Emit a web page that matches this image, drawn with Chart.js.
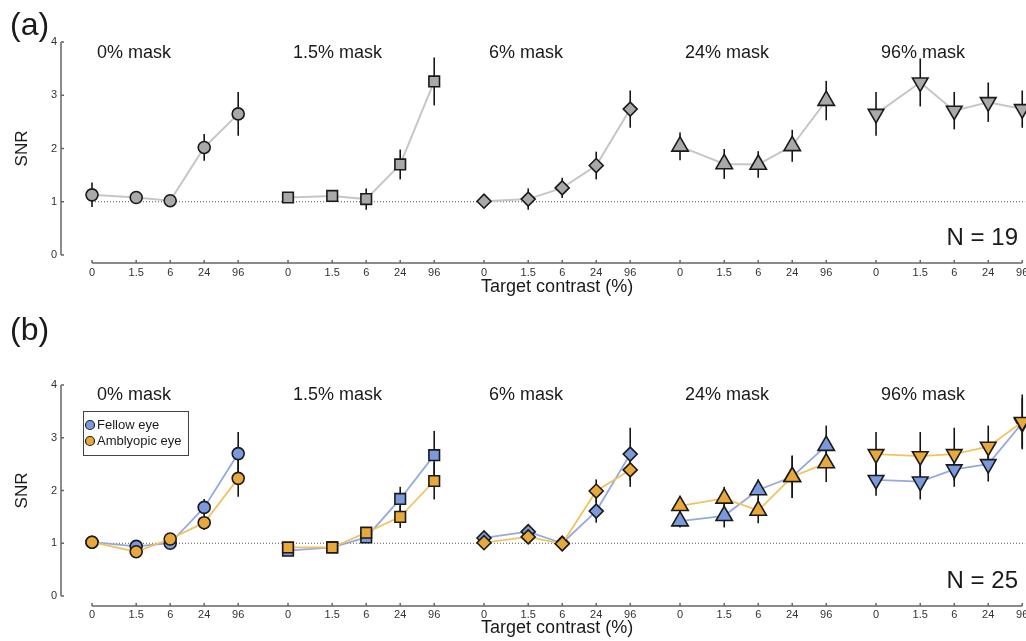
<!DOCTYPE html>
<html><head><meta charset="utf-8">
<script src="https://cdn.jsdelivr.net/npm/chart.js@4.4.1/dist/chart.umd.min.js"></script>
<style>
html,body{margin:0;padding:0;background:#fff;}
#wrap{position:relative;width:1026px;height:641px;overflow:hidden;background:#fff;}
canvas{position:absolute;left:0;}
</style></head><body>
<div id="wrap">
<canvas id="ca" width="1026" height="300" style="top:0px"></canvas>
<canvas id="cb" width="1026" height="341" style="top:300px"></canvas>
</div>
<script>
// ---------------- data ----------------
const contrasts = [0, 1.5, 6, 24, 96];
const tickLabels = ['0', '1.5', '6', '24', '96'];
const masks = ['0% mask', '1.5% mask', '6% mask', '24% mask', '96% mask'];
const yTicks = [0, 1, 2, 3, 4];

// Panel (a): rows = mask contrast, columns = target contrast
const snrA = [
  [1.13, 1.08, 1.02, 2.02, 2.65],
  [1.08, 1.11, 1.05, 1.70, 3.26],
  [1.01, 1.05, 1.26, 1.68, 2.74],
  [2.04, 1.71, 1.70, 2.05, 2.90],
  [2.65, 3.24, 2.71, 2.87, 2.74]
];
const errA = [
  [0.23, 0.07, 0.06, 0.25, 0.41],
  [0.07, 0.08, 0.20, 0.28, 0.45],
  [0.05, 0.20, 0.19, 0.26, 0.35],
  [0.26, 0.28, 0.25, 0.30, 0.37],
  [0.41, 0.45, 0.35, 0.37, 0.35]
];
// Panel (b)
const fellowB = [
  [1.02, 0.94, 1.00, 1.68, 2.70],
  [0.86, 0.92, 1.11, 1.84, 2.67],
  [1.10, 1.22, 1.00, 1.61, 2.69],
  [1.42, 1.52, 2.01, 2.26, 2.85],
  [2.20, 2.17, 2.40, 2.50, 3.28]
];
const fellowErrB = [
  [0.05, 0.05, 0.05, 0.16, 0.41],
  [0.05, 0.05, 0.06, 0.23, 0.46],
  [0.05, 0.06, 0.04, 0.22, 0.50],
  [0.12, 0.22, 0.20, 0.40, 0.38],
  [0.30, 0.34, 0.33, 0.33, 0.47]
];
const amblyB = [
  [1.02, 0.84, 1.08, 1.39, 2.23],
  [0.92, 0.92, 1.20, 1.50, 2.18],
  [1.01, 1.12, 0.99, 1.99, 2.39],
  [1.71, 1.85, 1.62, 2.26, 2.52],
  [2.69, 2.65, 2.69, 2.83, 3.30]
];
const amblyErrB = [
  [0.05, 0.05, 0.10, 0.14, 0.35],
  [0.05, 0.05, 0.06, 0.21, 0.35],
  [0.05, 0.06, 0.04, 0.22, 0.32],
  [0.12, 0.22, 0.24, 0.40, 0.36],
  [0.42, 0.46, 0.50, 0.40, 0.52]
];

// ---------------- styling / layout ----------------
const FONT = '"Liberation Sans", Arial, Helvetica, sans-serif';
Chart.defaults.font.family = FONT;
Chart.defaults.color = '#333';
const GROUP_GAP = 11.53;  // x units between mask groups
const ZERO_GAP = 2.6;     // x units between 0 and 1.5 (log2 spacing otherwise)
const PX_PER_UNIT = 17;
const FIRST_TICK_PX = 92;
function pos(g, c) { return g * GROUP_GAP + (c === 0 ? 0 : ZERO_GAP + Math.log2(c / 1.5)); }
const tickPositions = [];
masks.forEach((m, g) => contrasts.forEach(c => tickPositions.push(pos(g, c))));

const markerStyles = ['circle', 'rect', 'rectRot', 'triangle', 'triangle'];
const markerRotations = [0, 0, 0, 0, 180];
const markerSizes = [6, 7.5, 7, 9.5, 9];

function groupDatasets(values, errors, style, order) {
  return masks.map((m, g) => ({
    label: m,
    data: contrasts.map((c, k) => ({ x: pos(g, c), y: values[g][k] })),
    errors: errors[g],
    borderColor: style.line,
    borderWidth: style.lineWidth,
    tension: 0,
    clip: false,
    pointStyle: markerStyles[g],
    pointRotation: markerRotations[g],
    pointRadius: markerSizes[g],
    pointHoverRadius: markerSizes[g],
    pointBackgroundColor: style.fill,
    pointBorderColor: '#1a1a1a',
    pointBorderWidth: 1.6,
    order: order
  }));
}

const decor = {
  id: 'decor',
  beforeDatasetsDraw(chart, args, o) {
    const ctx = chart.ctx, xs = chart.scales.x, ys = chart.scales.y;
    ctx.save();
    // reference line at SNR = 1
    ctx.strokeStyle = '#555'; ctx.lineWidth = 1; ctx.setLineDash([1, 2]);
    const y1 = ys.getPixelForValue(1);
    ctx.beginPath();
    ctx.moveTo(xs.getPixelForValue(tickPositions[0]), y1);
    ctx.lineTo(xs.getPixelForValue(tickPositions[tickPositions.length - 1]) + 3, y1);
    ctx.stroke();
    ctx.setLineDash([]);
    // error bars
    ctx.strokeStyle = '#151515'; ctx.lineWidth = 1.6;
    chart.data.datasets.forEach(ds => {
      if (!ds.errors) return;
      ds.data.forEach((p, j) => {
        const e = ds.errors[j];
        const x = xs.getPixelForValue(p.x);
        ctx.beginPath();
        ctx.moveTo(x, ys.getPixelForValue(p.y + e));
        ctx.lineTo(x, ys.getPixelForValue(p.y - e));
        ctx.stroke();
      });
    });
    ctx.restore();
  },
  afterDraw(chart, args, o) {
    const ctx = chart.ctx, xs = chart.scales.x, ys = chart.scales.y, ca = chart.chartArea;
    ctx.save();
    // y axis
    ctx.strokeStyle = '#666'; ctx.lineWidth = 1.5;
    const xl = ca.left;
    ctx.beginPath();
    ctx.moveTo(xl, ys.getPixelForValue(0)); ctx.lineTo(xl, ys.getPixelForValue(4));
    yTicks.forEach(v => { const y = ys.getPixelForValue(v); ctx.moveTo(xl, y); ctx.lineTo(xl + 3, y); });
    ctx.stroke();
    // x axis (offset below plot)
    const yAx = ca.bottom + o.axisGap;
    ctx.beginPath();
    ctx.moveTo(xs.getPixelForValue(tickPositions[0]), yAx);
    ctx.lineTo(xs.getPixelForValue(tickPositions[tickPositions.length - 1]), yAx);
    tickPositions.forEach(v => { const x = xs.getPixelForValue(v); ctx.moveTo(x, yAx); ctx.lineTo(x, yAx - 3); });
    ctx.stroke();
    // texts
    ctx.fillStyle = '#1a1a1a';
    ctx.textBaseline = 'alphabetic';
    ctx.font = '32px ' + FONT; ctx.textAlign = 'left';
    ctx.fillText(o.panel, 10, o.panelY);
    ctx.font = '18px ' + FONT;
    masks.forEach((m, g) => ctx.fillText(m, xs.getPixelForValue(pos(g, 0)) + 5, o.maskY));
    ctx.textAlign = 'right'; ctx.font = '24px ' + FONT;
    ctx.fillText(o.nText, 1018, o.nY);
    ctx.textAlign = 'center'; ctx.font = '18px ' + FONT;
    const xc = (xs.getPixelForValue(tickPositions[0]) + xs.getPixelForValue(tickPositions[tickPositions.length - 1])) / 2;
    ctx.fillText('Target contrast (%)', xc, o.titleY);
    // legend
    if (o.legend) {
      const L = o.legend;
      ctx.strokeStyle = '#444'; ctx.lineWidth = 1;
      ctx.strokeRect(L.x + 0.5, L.y + 0.5, L.w, L.h);
      ctx.font = '13px ' + FONT; ctx.textAlign = 'left'; ctx.textBaseline = 'middle';
      L.items.forEach((it, i) => {
        const cy = L.y + 14 + i * 16;
        ctx.beginPath(); ctx.arc(L.x + 7, cy, 4.5, 0, Math.PI * 2);
        ctx.fillStyle = it.fill; ctx.fill();
        ctx.strokeStyle = '#222'; ctx.lineWidth = 1.2; ctx.stroke();
        ctx.fillStyle = '#1a1a1a';
        ctx.fillText(it.label, L.x + 14, cy + 0.5);
      });
    }
    ctx.restore();
  }
};

function makeChart(id, datasets, padTop, tickLen, deco) {
  const chart = new Chart(document.getElementById(id), {
    type: 'line',
    data: { datasets: datasets },
    plugins: [decor],
    options: {
      responsive: false, animation: false, devicePixelRatio: 1,
      layout: { padding: { top: padTop, left: 0, right: 0, bottom: 0 } },
      plugins: { legend: { display: false }, tooltip: { enabled: false }, decor: deco },
      scales: {
        x: {
          type: 'linear', min: -31 / 17, max: 934 / 17,
          grid: { display: false, drawTicks: true, tickLength: tickLen },
          border: { display: false },
          afterBuildTicks: s => { s.ticks = tickPositions.map(v => ({ value: v })); },
          afterFit: s => { s.height = 45; s.paddingLeft = 0; s.paddingRight = 0; },
          ticks: {
            autoSkip: false, maxRotation: 0, padding: 0,
            font: { size: 11 }, color: '#333',
            callback: (v, i) => tickLabels[i % tickLabels.length]
          }
        },
        y: {
          type: 'linear', min: 0, max: 4,
          grid: { display: false, drawTicks: false },
          border: { display: false },
          afterBuildTicks: s => { s.ticks = yTicks.map(v => ({ value: v })); },
          afterFit: s => { s.width = 61; },
          ticks: { padding: 4, font: { size: 11 }, color: '#333' },
          title: { display: true, text: 'SNR', font: { size: 17 }, color: '#1a1a1a', padding: { top: 12, bottom: 0 } }
        }
      }
    }
  });
  // fit the x range to the actual plot area so that 1 unit = PX_PER_UNIT pixels
  const a = chart.chartArea;
  const xo = chart.options.scales.x;
  xo.min = -(FIRST_TICK_PX - a.left) / PX_PER_UNIT;
  xo.max = xo.min + (a.right - a.left) / PX_PER_UNIT;
  chart.update();
  return chart;
}

const grayStyle = { line: '#c6c6c6', lineWidth: 2, fill: '#a9a9a9' };
const blueStyle = { line: '#93a9e0', lineWidth: 1.8, fill: '#7b9ade' };
const orangeStyle = { line: '#f1c35e', lineWidth: 1.8, fill: '#e9a93a' };

makeChart('ca', groupDatasets(snrA, errA, grayStyle, 0), 42, 11,
  { panel: '(a)', panelY: 35, maskY: 58, nText: 'N = 19', nY: 245, titleY: 292, axisGap: 8 });

makeChart('cb',
  groupDatasets(amblyB, amblyErrB, orangeStyle, 0).concat(groupDatasets(fellowB, fellowErrB, blueStyle, 1)),
  85, 12,
  { panel: '(b)', panelY: 40, maskY: 100, nText: 'N = 25', nY: 288, titleY: 333, axisGap: 10,
    legend: { x: 83, y: 111, w: 105, h: 44,
      items: [{ label: 'Fellow eye', fill: '#7b9ade' }, { label: 'Amblyopic eye', fill: '#e9a93a' }] } });
</script>
</body></html>
